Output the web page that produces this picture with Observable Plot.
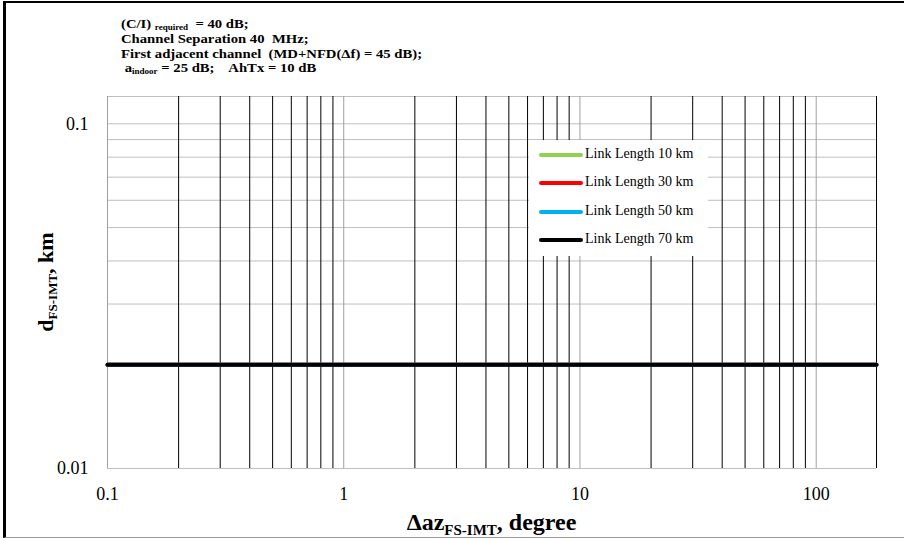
<!DOCTYPE html>
<html>
<head>
<meta charset="utf-8">
<script src="https://cdn.jsdelivr.net/npm/d3@7"></script>
<script src="https://cdn.jsdelivr.net/npm/@observablehq/plot@0.6"></script>
<style>
  html, body { margin: 0; padding: 0; background: #fff; }
  #wrap { position: relative; width: 904px; height: 538px; overflow: hidden; font-family: "Liberation Serif", "Times New Roman", serif; }
  #border { position: absolute; box-sizing: border-box; left: 3px; top: 1px; width: 960px; height: 537px; border-left: 3px solid #000; border-top: 2px solid #000; border-bottom: 1px solid #999; pointer-events: none; }
  #legend { position: absolute; left: 529px; top: 140px; width: 179px; height: 116px; background: #fff; }
  .li { position: absolute; left: 10px; height: 16px; font-size: 14px; white-space: nowrap; }
  .li span.sw { display: inline-block; width: 44px; height: 4px; border-radius: 2px; vertical-align: middle; margin-right: 2px; }
</style>
</head>
<body>
<div id="wrap">
  <div id="chart"></div>
  <div id="legend"></div>
  <div id="border"></div>
</div>
<script>
// ---- data ----
const azimuth = [0.1, 1, 10, 100, 180];                  // Δaz FS-IMT, degree
const link10 = [0.02, 0.02, 0.02, 0.02, 0.02];           // d FS-IMT, km
const link30 = [0.02, 0.02, 0.02, 0.02, 0.02];
const link50 = [0.02, 0.02, 0.02, 0.02, 0.02];
const link70 = [0.02, 0.02, 0.02, 0.02, 0.02];
const seriesNames = ["Link Length 10 km", "Link Length 30 km", "Link Length 50 km", "Link Length 70 km"];
const seriesColors = ["#92D050", "#FF0000", "#00B0F0", "#000000"];
const xTickLabels = [0.1, 1, 10, 100];
const yTickLabels = [0.01, 0.1];
const xMinorGrid = [0.2,0.3,0.4,0.5,0.6,0.7,0.8,0.9, 2,3,4,5,6,7,8,9, 20,30,40,50,60,70,80,90, 180];
const xMajorGrid = [0.1, 1, 10, 100];
const yGrid = [0.01,0.02,0.03,0.04,0.05,0.06,0.07,0.08,0.09,0.1,0.12];
// note lines: [text, subscript, rest]
const noteLines = [
  ["(C/I) ", "required", "  = 40 dB;"],
  ["Channel Separation 40  MHz;", "", ""],
  ["First adjacent channel  (MD+NFD(Δf) = 45 dB);", "", ""],
  [" a", "indoor", " = 25 dB;    AhTx = 10 dB"]
];

const allSeries = [link10, link30, link50, link70];
const rows = [];
allSeries.forEach((vals, s) => vals.forEach((v, i) => rows.push({x: azimuth[i], y: v, s: seriesNames[s]})));

const plot = Plot.plot({
  width: 904,
  height: 538,
  marginLeft: 107,
  marginRight: 28,
  marginTop: 96,
  marginBottom: 70,
  style: {fontFamily: "Liberation Serif, Times New Roman, serif", fontSize: "18px", color: "#000", background: "transparent"},
  x: {type: "log", domain: [0.1, 180]},
  y: {type: "log", domain: [0.01, 0.12]},
  color: {domain: seriesNames, range: seriesColors},
  marks: [
    Plot.ruleY(yGrid, {stroke: "#bfbfbf", strokeWidth: 1}),
    Plot.ruleX(xMajorGrid, {stroke: "#a0a0a0", strokeWidth: 1}),
    Plot.ruleX(xMinorGrid, {stroke: "#000", strokeWidth: 1}),
    Plot.axisX({ticks: xTickLabels, tickFormat: d => String(d), tickSize: 0, tickPadding: 19, label: null, fontSize: 18}),
    Plot.axisY({ticks: yTickLabels, tickFormat: d => String(d), tickSize: 0, tickPadding: 19, label: null, fontSize: 18}),
    Plot.line(rows, {x: "x", y: "y", z: "s", stroke: "s", strokeWidth: 4})
  ]
});
document.getElementById("chart").appendChild(plot);

// axis titles with subscripts
const svg = d3.select(plot);
const xs = plot.scale("x"), ys = plot.scale("y");
const midX = (xs.range[0] + xs.range[1]) / 2;
const midY = (ys.range[0] + ys.range[1]) / 2;
const xl = svg.append("text").attr("x", midX).attr("y", 530).attr("text-anchor", "middle")
  .attr("font-family", "Liberation Serif, serif").attr("font-weight", "bold").attr("font-size", 24).attr("fill", "#000");
xl.append("tspan").text("Δaz");
xl.append("tspan").attr("font-size", 15).attr("dy", 5).text("FS-IMT");
xl.append("tspan").attr("dy", -5).text(", degree");

const yl = svg.append("text").attr("transform", `translate(53,${midY}) rotate(-90)`).attr("text-anchor", "middle")
  .attr("font-family", "Liberation Serif, serif").attr("font-weight", "bold").attr("font-size", 22).attr("fill", "#000");
yl.append("tspan").text("d");
yl.append("tspan").attr("font-size", 13).attr("dy", 4).text("FS-IMT");
yl.append("tspan").attr("dy", -4).text(", km");

// note block (top-left)
const ng = svg.append("g").attr("transform", "translate(121,0) scale(1.13,1)")
  .attr("font-family", "Liberation Serif, serif").attr("font-weight", "bold").attr("font-size", 13).attr("fill", "#000")
  .attr("text-anchor", "start").style("white-space", "pre");
const baselines = [28, 43, 58.5, 72];
noteLines.forEach(([a, sub, rest], i) => {
  const t = ng.append("text").attr("x", 0).attr("y", baselines[i]).attr("text-anchor", "start").attr("xml:space", "preserve");
  t.append("tspan").text(a);
  if (sub) {
    t.append("tspan").attr("font-size", 8).attr("dy", 2).text(sub);
    t.append("tspan").attr("dy", -2).text(rest);
  }
});

// legend
const lg = document.getElementById("legend");
const legendTops = [6, 34, 63, 91];
seriesNames.forEach((n, i) => {
  const d = document.createElement("div");
  d.className = "li";
  d.style.top = legendTops[i] + "px";
  d.innerHTML = `<span class="sw" style="background:${seriesColors[i]}"></span>${n}`;
  lg.appendChild(d);
});
</script>
</body>
</html>
